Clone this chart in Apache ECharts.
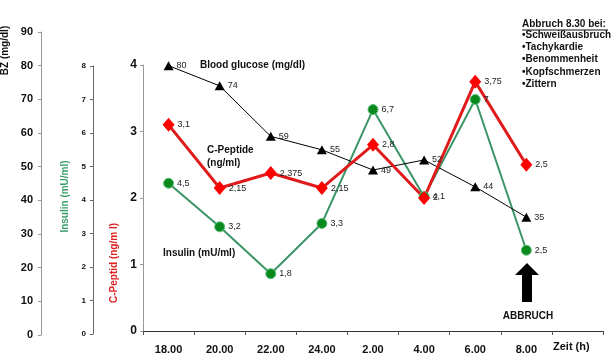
<!DOCTYPE html>
<html><head><meta charset="utf-8">
<script src="https://cdn.jsdelivr.net/npm/echarts@6/dist/echarts.min.js"></script>
<style>html,body{margin:0;padding:0;background:#fff}#c{width:613px;height:362px}</style>
</head><body><div id="c"></div>
<script>
var categories = ['18.00','20.00','22.00','24.00','2.00','4.00','6.00','8.00',''];
var bloodGlucose = [80, 74, 59, 55, 49, 52, 44, 35];
var cPeptide = [3.1, 2.15, 2.375, 2.15, 2.8, 2, 3.75, 2.5];
var insulin = [4.5, 3.2, 1.8, 3.3, 6.7, 4.1, 7, 2.5];
var bzTicks = {min: 0, max: 90, interval: 10};
var insTicks = {min: 0, max: 8, interval: 1};
var cpTicks = {min: 0, max: 4, interval: 1};
var abbruchTitle = 'Abbruch 8.30 bei:';
var abbruchItems = ['Schweißausbruch','Tachykardie','Benommenheit','Kopfschmerzen','Zittern'];

var FF = "'Liberation Sans', Arial, sans-serif";
var FN = "'Liberation Sans Narrow', 'Liberation Sans', Arial, sans-serif";
function fmt(p){ return String(p.value).replace('.', ','); }
var dataLabel = {show: true, position: 'right', distance: 3, fontSize: 9, fontFamily: FF, color: '#222', formatter: fmt};

var chart = echarts.init(document.getElementById('c'), null, {renderer: 'canvas'});
var gridBase = {left: 143, right: 10, outerBoundsMode: 'none', containLabel: false};
function hiddenX(g){ return {type:'category', gridIndex:g, data:categories, boundaryGap:true, show:false}; }
var textItems = [];
abbruchItems.forEach(function(t, i){
  textItems.push({type:'text', x:522, y:35 + i*12.3, style:{text:'•' + t, font:'bold 10px ' + FF, fill:'#111', verticalAlign:'middle'}});
});
chart.setOption({
  animation: false,
  backgroundColor: '#fff',
  grid: [
    Object.assign({top: 65, bottom: 31}, gridBase),
    Object.assign({top: 32, bottom: 27}, gridBase),
    Object.assign({top: 66, bottom: 28}, gridBase)
  ],
  xAxis: [
    {type:'category', gridIndex:0, data:categories, boundaryGap:true,
     axisLine:{lineStyle:{color:'#333', width:1}},
     axisTick:{show:true, length:4, interval:0, lineStyle:{color:'#555'}},
     axisLabel:{interval:0, margin:13, fontSize:11, fontWeight:'bold', fontFamily:FN, color:'#111'},
     name:'Zeit (h)', nameLocation:'end', nameGap:-50,
     nameTextStyle:{fontSize:11, fontWeight:'bold', fontFamily:FN, color:'#111', verticalAlign:'top', padding:[10,0,0,0]}},
    hiddenX(1), hiddenX(2)
  ],
  yAxis: [
    {type:'value', gridIndex:0, position:'left', offset:0, min:cpTicks.min, max:cpTicks.max, interval:cpTicks.interval,
     splitLine:{show:false}, axisLine:{show:true, lineStyle:{color:'#999'}},
     axisTick:{show:true, length:3, lineStyle:{color:'#999'}},
     axisLabel:{margin:6, fontSize:12, fontWeight:'bold', fontFamily:FF, color:'#111'},
     name:'C-Peptid (ng/m l)', nameLocation:'middle', nameGap:20, nameRotate:90,
     nameTextStyle:{fontSize:10, fontWeight:'bold', fontFamily:FF, color:'#dd1f1f', padding:[0,130,0,0]}},
    {type:'value', gridIndex:1, position:'left', offset:102, min:bzTicks.min, max:bzTicks.max, interval:bzTicks.interval,
     splitLine:{show:false}, axisLine:{show:true, lineStyle:{color:'#999'}},
     axisTick:{show:true, length:3, lineStyle:{color:'#999'}},
     axisLabel:{margin:8, fontSize:11, fontWeight:'bold', fontFamily:FF, color:'#111'},
     name:'BZ (mg/dl)', nameLocation:'middle', nameGap:30, nameRotate:90,
     nameTextStyle:{fontSize:10, fontWeight:'bold', fontFamily:FF, color:'#111', padding:[0,0,0,266]}},
    {type:'value', gridIndex:2, position:'left', offset:50, min:insTicks.min, max:insTicks.max, interval:insTicks.interval,
     splitLine:{show:false}, axisLine:{show:true, lineStyle:{color:'#666'}},
     axisTick:{show:true, length:3, lineStyle:{color:'#666'}},
     axisLabel:{margin:7, fontSize:8, fontWeight:'bold', fontFamily:FF, color:'#111'},
     name:'Insulin (mU/ml)', nameLocation:'middle', nameGap:18, nameRotate:90,
     nameTextStyle:{fontSize:10, fontWeight:'bold', fontFamily:FF, color:'#3a9e6a', padding:[0,0,0,7]}}
  ],
  series: [
    {name:'Insulin (mU/ml)', type:'line', xAxisIndex:2, yAxisIndex:2, data:insulin,
     symbol:'circle', symbolSize:10,
     lineStyle:{color:'#3a9566', width:2},
     itemStyle:{color:'#0a8a1c', borderColor:'#5cc07e', borderWidth:1},
     label:dataLabel},
    {name:'Blood glucose (mg/dl)', type:'line', xAxisIndex:1, yAxisIndex:1, data:bloodGlucose,
     symbol:'triangle', symbolSize:[10,9],
     lineStyle:{color:'#000', width:1},
     itemStyle:{color:'#000'},
     label:dataLabel},
    {name:'C-Peptide (ng/ml)', type:'line', xAxisIndex:0, yAxisIndex:0, data:cPeptide,
     symbol:'diamond', symbolSize:[12,14],
     lineStyle:{color:'#e01b1b', width:3},
     itemStyle:{color:'#ff0000'},
     label:dataLabel}
  ],
  graphic: [
    {type:'text', x:200, y:65, style:{text:'Blood glucose (mg/dl)', font:'bold 10px ' + FF, fill:'#111', verticalAlign:'middle'}},
    {type:'text', x:207, y:150, style:{text:'C-Peptide', font:'bold 10px ' + FF, fill:'#111', verticalAlign:'middle'}},
    {type:'text', x:207, y:163, style:{text:'(ng/ml)', font:'bold 10px ' + FF, fill:'#111', verticalAlign:'middle'}},
    {type:'text', x:163, y:253, style:{text:'Insulin (mU/ml)', font:'bold 10px ' + FF, fill:'#111', verticalAlign:'middle'}},
    {type:'polygon', shape:{points:[[527,263],[539,275],[532,275],[532,302],[522,302],[522,275],[515,275]]}, style:{fill:'#000'}},
    {type:'text', x:528, y:316, style:{text:'ABBRUCH', font:'bold 10px ' + FF, fill:'#111', align:'center', verticalAlign:'middle'}},
    {type:'text', x:522, y:24, style:{text:abbruchTitle, font:'bold 10px ' + FF, fill:'#111', verticalAlign:'middle'}},
    {type:'line', shape:{x1:522, y1:30, x2:608, y2:30}, style:{stroke:'#111', lineWidth:1}}
  ].concat(textItems)
});
</script></body></html>
